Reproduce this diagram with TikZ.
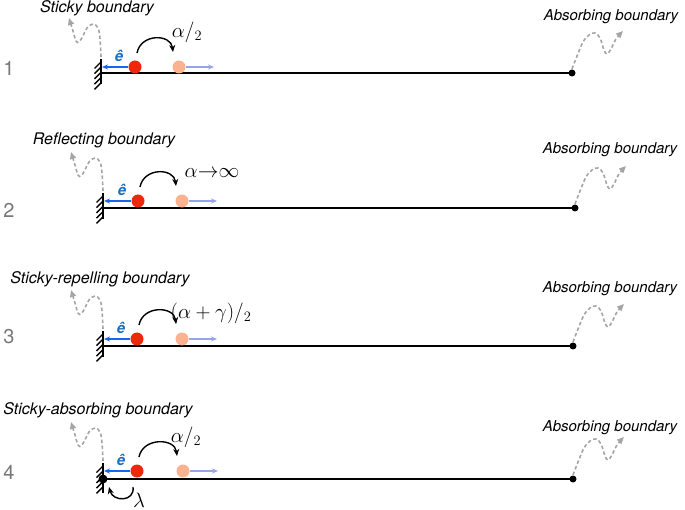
\documentclass[tikz,border=0pt]{standalone}
\usepackage{fontspec}
\setmainfont{TeX Gyre Heros}
\usetikzlibrary{arrows.meta}
\definecolor{redc}{RGB}{238,40,10}
\definecolor{peachc}{RGB}{250,178,145}
\definecolor{bluec}{RGB}{25,100,235}
\definecolor{ecol}{RGB}{25,110,190}
\definecolor{lblue}{RGB}{150,165,230}
\definecolor{sqgray}{RGB}{165,165,165}
\definecolor{numgray}{RGB}{120,120,120}
\tikzset{
  baseln/.style={line width=2.2pt, black},
  wallln/.style={line width=2pt, black},
  hatchln/.style={line width=1.4pt, black},
  enddot/.style={circle, fill=black, inner sep=0pt, minimum size=7pt},
  walldot/.style={circle, fill=black, inner sep=0pt, minimum size=9pt},
  redball/.style={circle, fill=redc, inner sep=0pt, minimum size=13pt},
  peachball/.style={circle, fill=peachc, inner sep=0pt, minimum size=13pt},
  bluearr/.style={line width=1.5pt, bluec, -{Stealth[length=6pt,width=5pt]}},
  lbluearr/.style={line width=1.5pt, lblue, -{Stealth[length=6pt,width=5pt]}},
  hoparr/.style={line width=1.4pt, black, -{Stealth[length=7pt,width=6pt]}},
  squig/.style={line width=1.6pt, sqgray, dash pattern=on 3.5pt off 2.5pt, -{Triangle[length=7pt,width=6pt]}},
  title/.style={font=\fontsize{16}{18}\selectfont\itshape, inner sep=0pt},
  abstitle/.style={font=\fontsize{15}{18}\selectfont\itshape, inner sep=0pt},
  numlbl/.style={font=\fontsize{20}{24}\selectfont, text=numgray, inner sep=0pt},
  mathlbl/.style={font=\fontsize{21}{24}\selectfont, inner sep=0pt},
  elbl/.style={font=\fontsize{15}{16}\selectfont\bfseries\itshape, text=ecol, inner sep=0pt},
  leftsq/.pic={\draw[squig] plot[smooth, tension=0.6] coordinates {(0,0) (-1,-18) (-3,-29) (-8,-33) (-14,-29) (-18,-21) (-22,-15) (-25,-16) (-28,-26) (-32,-39)};},
  rightsq/.pic={\draw[squig] plot[smooth, tension=0.6] coordinates {(0,0) (5,-13) (11,-27) (17,-34) (23,-36) (28,-31) (32,-19) (35,-15) (39,-20) (44,-30) (51,-38)};}
}
% #1 id, #2 base y, #3 wall x, #4 end x, #5 red x, #6 peach x, #7 ball y, #8 wall bottom
\newcommand\drawpanel[8]{%
  \coordinate (w#1) at (#3,#2);
  \node[enddot] (e#1) at (#4,#2) {};
  \draw[baseln] (w#1) -- (e#1.center);
  \coordinate (wt#1) at (#3,#7-8);
  \coordinate (wb#1) at (#3,#8);
  \draw[wallln] (wt#1) -- (wb#1);
  \foreach \k in {0,...,4} {\draw[hatchln] (#3,#7-5+\k*5.2) -- ++(-6.5,6.5);}
  \node[redball] (r#1) at (#5,#7) {};
  \node[peachball] (p#1) at (#6,#7) {};
  \coordinate (wa#1) at (#3+1,#7);
  \coordinate (la#1) at (#6+35,#7);
  \draw[bluearr] (r#1.west) -- (wa#1);
  \draw[lbluearr] (p#1.east) -- (la#1);
  \node[elbl] (ee#1) at (#5-16,#7-11) {ê};
  \coordinate (hs#1) at (#5+2,#7-14);
  \coordinate (he#1) at (#6-6,#7-15);
  \draw[hoparr] (hs#1) .. controls +(4,-20) and +(-2,-18) .. (he#1);
  \pic at (#3,#7-10) {leftsq};
  \pic at (#4,#2-4) {rightsq};
}
\begin{document}
\begin{tikzpicture}[x=1pt,y=-1pt]
\useasboundingbox (0,0) rectangle (685,510);
% panel 1
\drawpanel{1}{73}{101}{572}{135}{179}{67}{84}
\node[title] (t1) at (97,8) {Sticky boundary};
\node[abstitle] (a1) at (611,17) {Absorbing boundary};
\node[numlbl] (n1) at (9,68) {1};
\node[mathlbl] (m1) at (187,32) {$\alpha/_{2}$};
% panel 2
\drawpanel{2}{208}{103}{575}{138}{182}{201}{219}
\node[title] (t2) at (104,140) {Reflecting boundary};
\node[abstitle] (a2) at (610,150) {Absorbing boundary};
\node[numlbl] (n2) at (9,210) {2};
\node[mathlbl] (m2) at (212,173) {$\alpha{\to}\infty$};
% panel 3
\drawpanel{3}{346}{103}{573}{137}{182}{339}{357}
\node[title] (t3) at (100,279) {Sticky-repelling boundary};
\node[abstitle] (a3) at (610,289) {Absorbing boundary};
\node[numlbl] (n3) at (9,337) {3};
\node[mathlbl] (m3) at (211,313) {$(\alpha+\gamma)/_{2}$};
% panel 4
\drawpanel{4}{479}{103}{573}{137}{183}{471}{493}
\node[walldot] (wd4) at (103,479) {};
\node[title] (t4) at (98,410) {Sticky-absorbing boundary};
\node[abstitle] (a4) at (610,428) {Absorbing boundary};
\node[numlbl] (n4) at (9,472) {4};
\node[mathlbl] (m4) at (186,437) {$\alpha/_{2}$};
\coordinate (ls4) at (133,487);
\coordinate (le4) at (109,487);
\draw[hoparr] (ls4) .. controls +(2,15) and +(4,15) .. (le4);
\node[mathlbl] (lam4) at (139,500) {$\lambda$};
\end{tikzpicture}
\end{document}
